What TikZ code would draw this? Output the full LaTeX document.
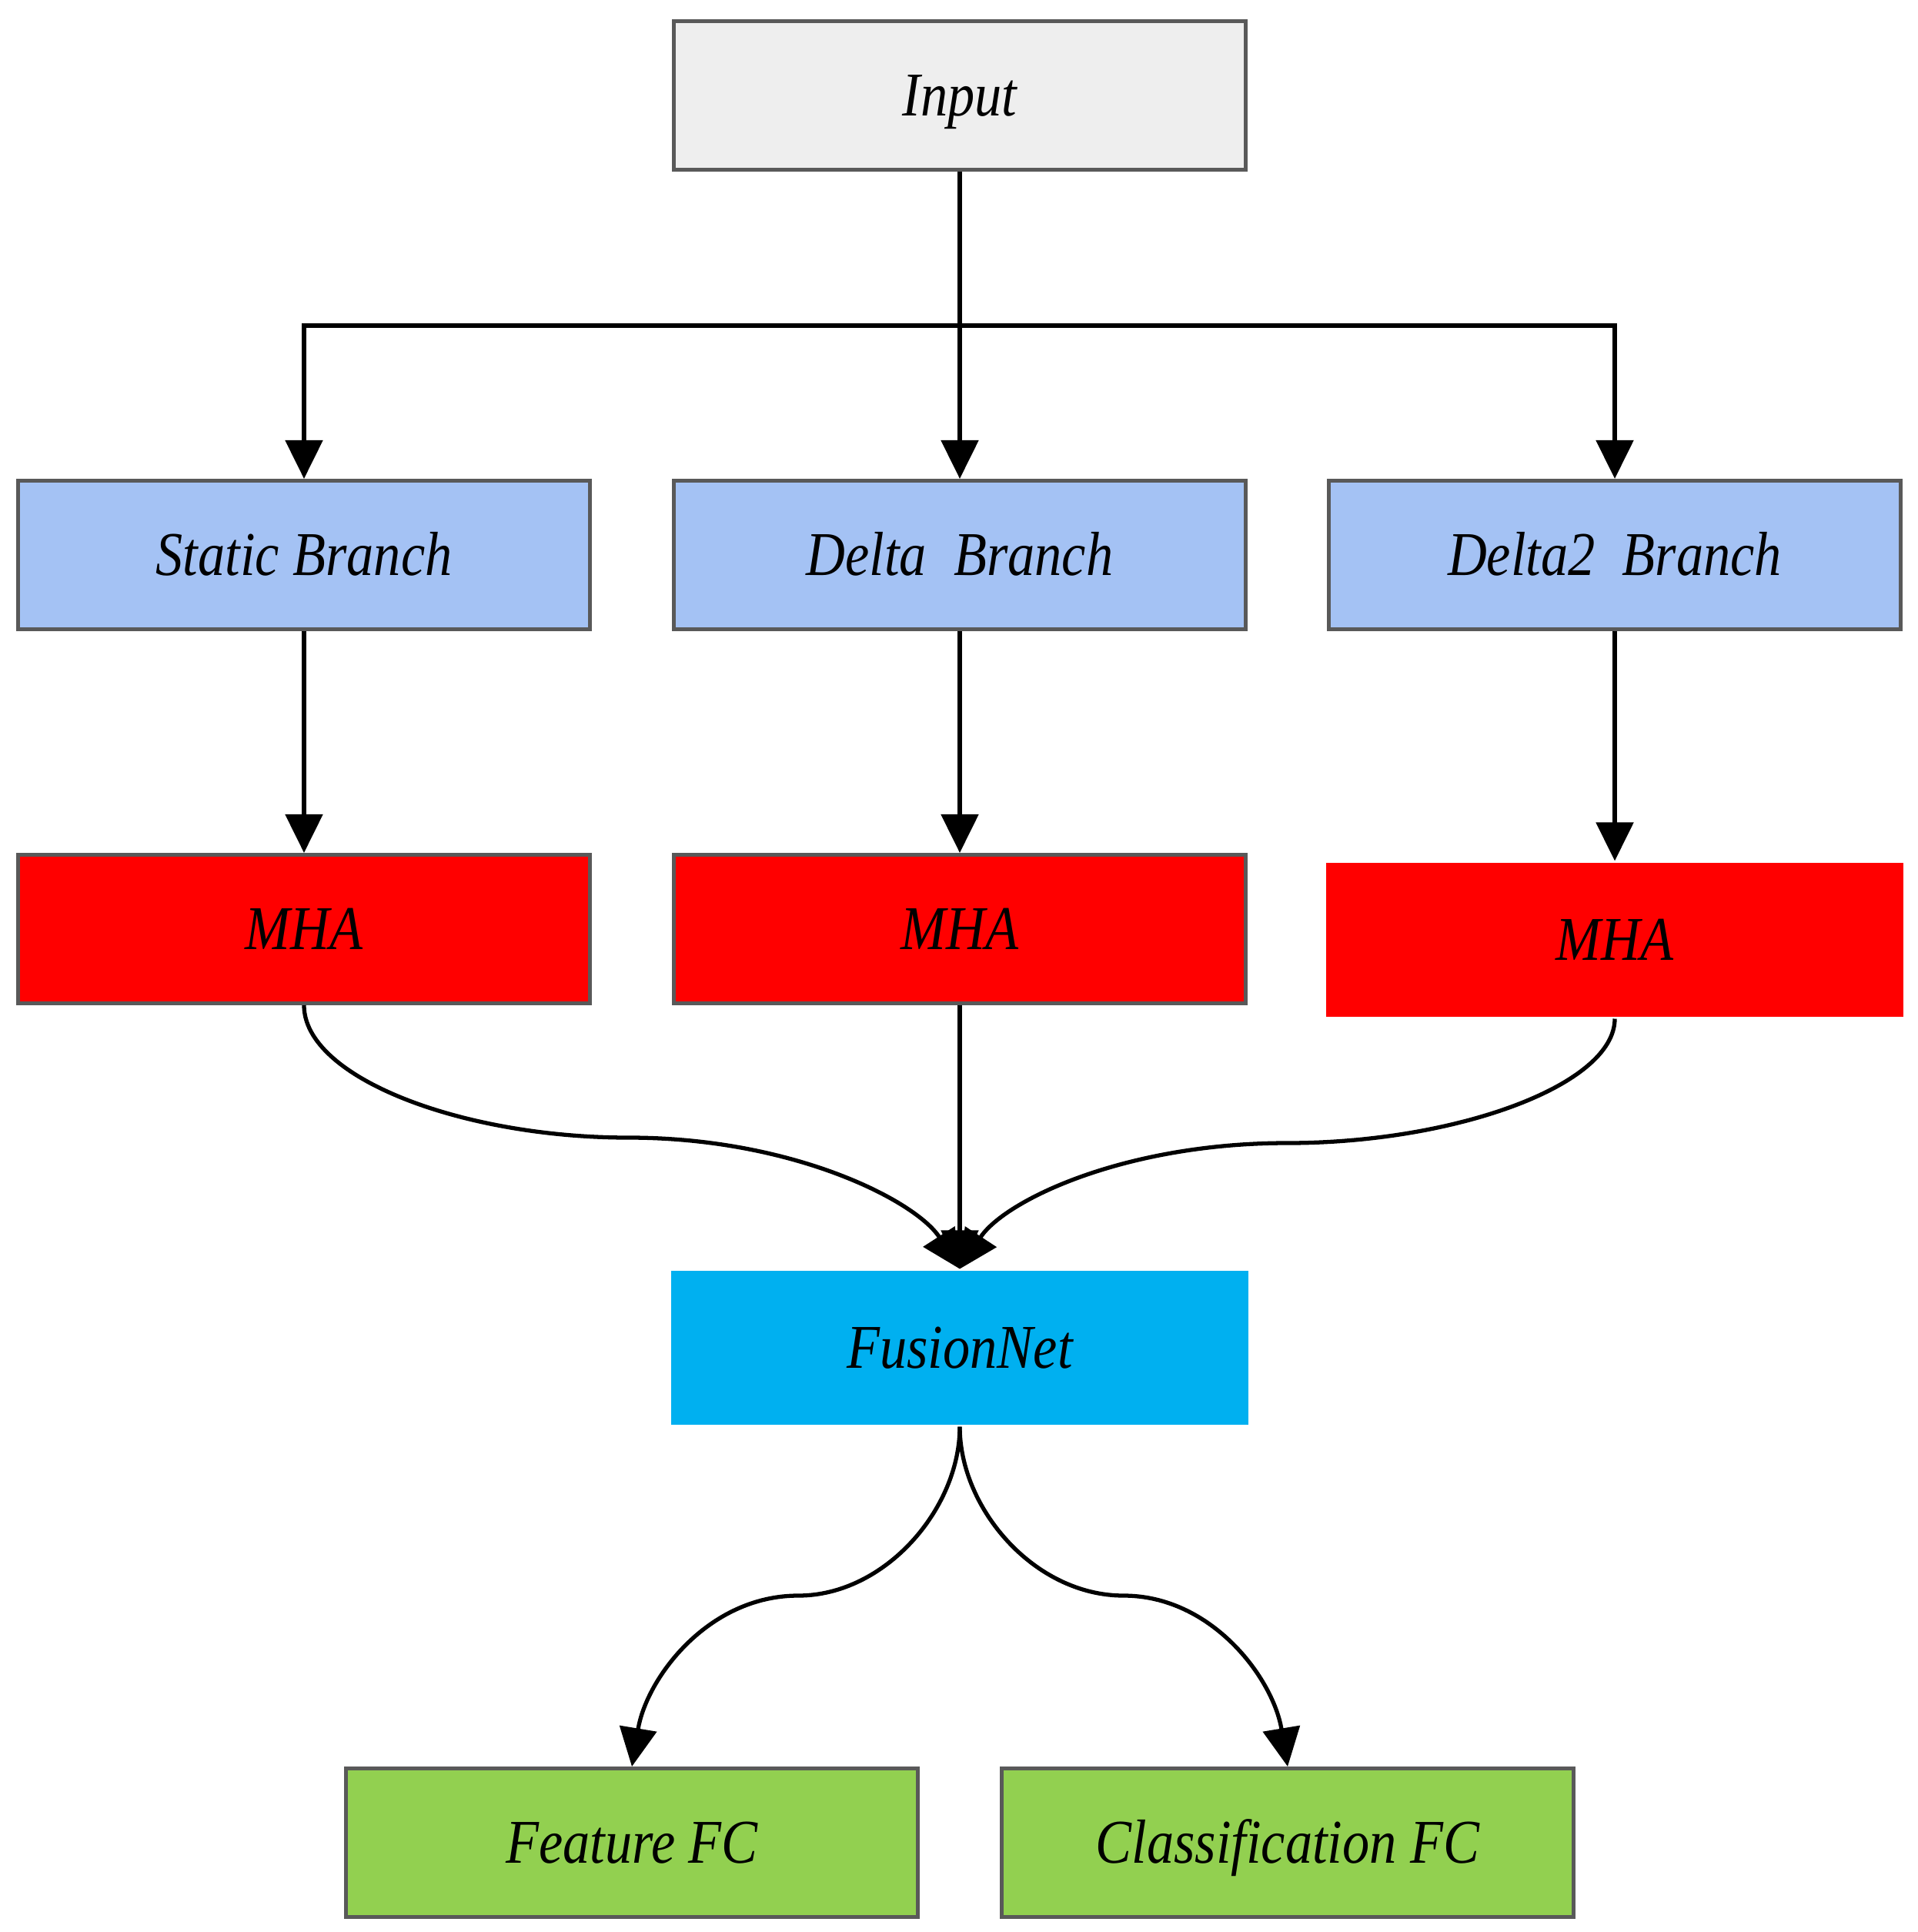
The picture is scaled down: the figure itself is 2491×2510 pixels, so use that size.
\documentclass[tikz,border=0pt]{standalone}
\usepackage{fontspec}
\newfontfamily\diagfont{Liberation Serif}[FakeStretch=0.87]
\usetikzlibrary{arrows.meta}
\definecolor{bordergray}{HTML}{595959}
\definecolor{inputfill}{HTML}{EEEEEE}
\definecolor{branchfill}{HTML}{A4C2F4}
\definecolor{mhafill}{HTML}{FF0000}
\definecolor{fusionfill}{HTML}{00B0F0}
\definecolor{fcfill}{HTML}{92D050}
\tikzset{
  box/.style={draw=bordergray, line width=1.4pt, minimum width=7.42cm, minimum height=1.93cm, inner sep=0pt,
    text height=15.2pt, text depth=0pt,
    font=\diagfont\itshape\fontsize{23}{27}\selectfont},
  nobox/.style={box, draw=none, minimum width=7.5cm, minimum height=2.0cm},
  conn/.style={line width=1.5pt, -{Triangle[length=0.5cm,width=0.48cm]}}
}
\begin{document}
\begin{tikzpicture}[x=0.01cm, y=-0.01cm]
\useasboundingbox (0,0) rectangle (2491,2510);
\node[box, fill=inputfill] (in) at (1247,124) {Input};
\node[box, fill=branchfill] (sb) at (395,721) {Static Branch};
\node[box, fill=branchfill] (db) at (1247,721) {Delta~~Branch};
\node[box, fill=branchfill] (d2) at (2098,721) {Delta2~~Branch};
\node[box, fill=mhafill] (m1) at (395,1207) {MHA};
\node[box, fill=mhafill] (m2) at (1247,1207) {MHA};
\node[nobox, fill=mhafill] (m3) at (2098,1221) {MHA};
\node[nobox, fill=fusionfill] (fu) at (1247,1751) {FusionNet};
\node[box, fill=fcfill] (ff) at (821,2394) {Feature FC};
\node[box, fill=fcfill] (cf) at (1673,2394) {Classification FC};

\coordinate (bar) at (1247,423);
\coordinate (lv) at (817,1478);
\coordinate (rv) at (1673,1485);
\coordinate (blv) at (1037,2073);
\coordinate (brv) at (1460,2073);

\draw[conn] (in.south) -- (db.north);
\draw[conn] (bar) -| (sb.north);
\draw[conn] (bar) -| (d2.north);

\draw[conn] (sb.south) -- (m1.north);
\draw[conn] (db.south) -- (m2.north);
\draw[conn] (d2.south) -- (m3.north);

\draw[conn] (m1.south) .. controls (395,1400) and (600,1478) .. (lv)
  .. controls (1030,1478) and (1190,1560) .. (fu.north);
\draw[conn] (m2.south) -- (fu.north);
\draw[conn] (m3.south) .. controls (2098,1410) and (1890,1485) .. (rv)
  .. controls (1460,1485) and (1305,1560) .. (fu.north);

\draw[conn] (fu.south) .. controls (1247,1960) and (1150,2073) .. (blv)
  .. controls (920,2073) and (840,2180) .. (ff.north);
\draw[conn] (fu.south) .. controls (1247,1960) and (1344,2073) .. (brv)
  .. controls (1574,2073) and (1654,2180) .. (cf.north);
\end{tikzpicture}
\end{document}
